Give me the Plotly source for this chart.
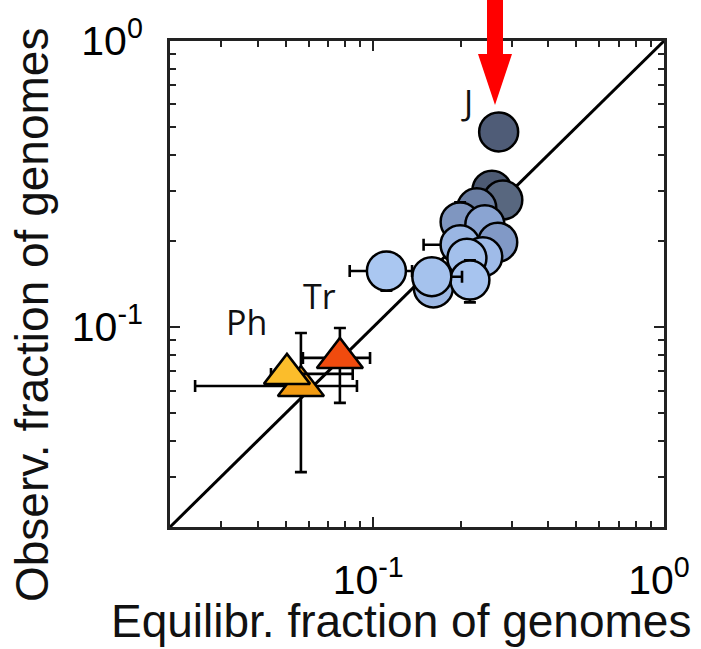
import math
import plotly.graph_objects as go

# ---------------- data ----------------
# circle points (drawn dark -> light)
circ_x = [0.256, 0.279, 0.227, 0.199, 0.242, 0.268, 0.199, 0.238, 0.210, 0.161, 0.215, 0.159, 0.111]
circ_y = [0.301, 0.278, 0.261, 0.233, 0.228, 0.198, 0.194, 0.176, 0.174, 0.137, 0.146, 0.150, 0.157]
circ_color = ["#4d5a73", "#58677f", "#6a7ea3", "#7f96c0", "#8aa4d2", "#8199c6",
              "#9ab6e3", "#9fbbe8", "#a3c0eb", "#9db8e4", "#a7c4ef", "#a5c2ed", "#aac7f1"]
circ_xerr_plus = [0, 0, 0, 0, 0, 0, 0, 0, 0, 0, 0, 0.043, 0.025]
circ_xerr_minus = [0, 0, 0, 0, 0, 0, 0.050, 0, 0, 0, 0.013, 0, 0.028]
circ_yerr_plus = [0.046, 0, 0, 0.040, 0, 0, 0, 0, 0, 0, 0.025, 0, 0.023]
circ_yerr_minus = [0.046, 0, 0, 0, 0, 0, 0, 0, 0, 0, 0.024, 0, 0.023]

# J point
j_x = [0.270]
j_y = [0.481]
j_color = "#4f5c77"

# triangles: orange, yellow (Ph), red (Tr)
tri_x = [0.0564, 0.0505, 0.0768]
tri_y = [0.0622, 0.0686, 0.0780]
tri_color = ["#f29b12", "#fbbd2b", "#f04b0e"]
tri_xerr_plus = [0.0315, 0.0345, 0.0207]
tri_xerr_minus = [0.0320, 0.006, 0.0195]
tri_yerr_plus = [0.0331, 0.005, 0.0213]
tri_yerr_minus = [0.0311, 0.005, 0.0237]

diag = [0.02, 1.0]

x_tickvals = [0.1, 1]
x_ticktext = ["10<sup>-1</sup>", "10<sup>0</sup>"]
minor_vals = [0.03, 0.04, 0.05, 0.06, 0.07, 0.08, 0.09, 0.2, 0.3, 0.4, 0.5, 0.6, 0.7, 0.8, 0.9]

x_title = "Equilibr. fraction of genomes"
y_title = "Observ. fraction of genomes"

# ---------------- figure ----------------
W, H = 701, 649
L, R, T, B = 170, 37, 41, 122
fig = go.Figure()

fig.add_trace(go.Scatter(x=diag, y=diag, mode="lines",
                         line=dict(color="black", width=3), hoverinfo="skip", showlegend=False))

def err(plus, minus):
    vis = (plus > 0) or (minus > 0)
    return dict(type="data", symmetric=False, array=[plus], arrayminus=[minus],
                color="black", thickness=2.6, width=6, visible=vis)

for i in range(len(tri_x)):
    fig.add_trace(go.Scatter(
        x=[tri_x[i]], y=[tri_y[i]], mode="markers",
        marker=dict(symbol="triangle-up", size=40, color=tri_color[i],
                    line=dict(color="black", width=2.5)),
        error_x=err(tri_xerr_plus[i], tri_xerr_minus[i]),
        error_y=err(tri_yerr_plus[i], tri_yerr_minus[i]),
        showlegend=False))

fig.add_trace(go.Scatter(
    x=j_x, y=j_y, mode="markers",
    marker=dict(symbol="circle", size=39, color=j_color, line=dict(color="black", width=2.5)),
    showlegend=False))

for i in range(len(circ_x)):
    fig.add_trace(go.Scatter(
        x=[circ_x[i]], y=[circ_y[i]], mode="markers",
        marker=dict(symbol="circle", size=39, color=circ_color[i],
                    line=dict(color="black", width=2.5)),
        error_x=err(circ_xerr_plus[i], circ_xerr_minus[i]),
        error_y=err(circ_yerr_plus[i], circ_yerr_minus[i]),
        showlegend=False))

font_tick = dict(family="Liberation Sans, Arial, sans-serif", size=41, color="black")
axis_common = dict(
    type="log", range=[math.log10(diag[0]), math.log10(diag[1])],
    showline=True, linecolor="#222", linewidth=2.8, mirror="ticks",
    ticks="inside", ticklen=10, tickwidth=2, tickcolor="#222",
    tickvals=x_tickvals, ticktext=x_ticktext, tickfont=font_tick,
    showgrid=False, zeroline=False, automargin=False,
    minor=dict(tickvals=minor_vals, ticks="inside", ticklen=6, tickwidth=2,
               tickcolor="#222", showgrid=False),
)
fig.update_xaxes(**axis_common, ticklabelstandoff=15, ticklabelshift=-5)
fig.update_yaxes(**axis_common, ticklabelstandoff=16)

# labels anchored to points
lab_font = dict(family="Open Sans, Noto Sans, sans-serif", size=34, color="#111")
fig.add_annotation(x=math.log10(j_x[0]), y=math.log10(j_y[0]), text="J", showarrow=False,
                   xshift=-32, yshift=30, font=lab_font)
fig.add_annotation(x=math.log10(tri_x[1]), y=math.log10(tri_y[1]), text="Ph", showarrow=False,
                   xshift=-40, yshift=52, font=lab_font)
fig.add_annotation(x=math.log10(tri_x[2]), y=math.log10(tri_y[2]), text="Tr", showarrow=False,
                   xshift=-20, yshift=62, font=lab_font)

# axis titles
title_font = dict(family="Liberation Sans, Arial, sans-serif", size=46, color="#111")
pw, ph = W - L - R, H - T - B
fig.add_annotation(xref="paper", yref="paper", x=(401 - L) / pw, y=(H - B - 621) / ph,
                   text=x_title, showarrow=False, font=title_font,
                   xanchor="center", yanchor="middle")
fig.add_annotation(xref="paper", yref="paper", x=(32 - L) / pw, y=(H - B - 315) / ph,
                   text=y_title, showarrow=False, font=title_font, textangle=-90,
                   xanchor="center", yanchor="middle")

# red arrow pointing at J
cx = (495 - L) / pw
def py(p):
    return (H - B - p) / ph
sw, hw = 8 / pw, 17 / pw
path = (f"M {cx-sw},{py(0)} L {cx+sw},{py(0)} L {cx+sw},{py(54)} L {cx+hw},{py(54)} "
        f"L {cx},{py(105)} L {cx-hw},{py(54)} L {cx-sw},{py(54)} Z")
fig.add_shape(type="path", xref="paper", yref="paper", path=path,
              fillcolor="#ff0000", line=dict(width=0), layer="above")

fig.update_layout(
    width=W, height=H,
    margin=dict(l=L, r=R, t=T, b=B, pad=0, autoexpand=False),
    paper_bgcolor="white", plot_bgcolor="white",
    showlegend=False,
)

fig.write_html("out.html", config={"displayModeBar": False},
               post_script="document.body.style.margin='0';document.body.style.overflow='hidden';")
